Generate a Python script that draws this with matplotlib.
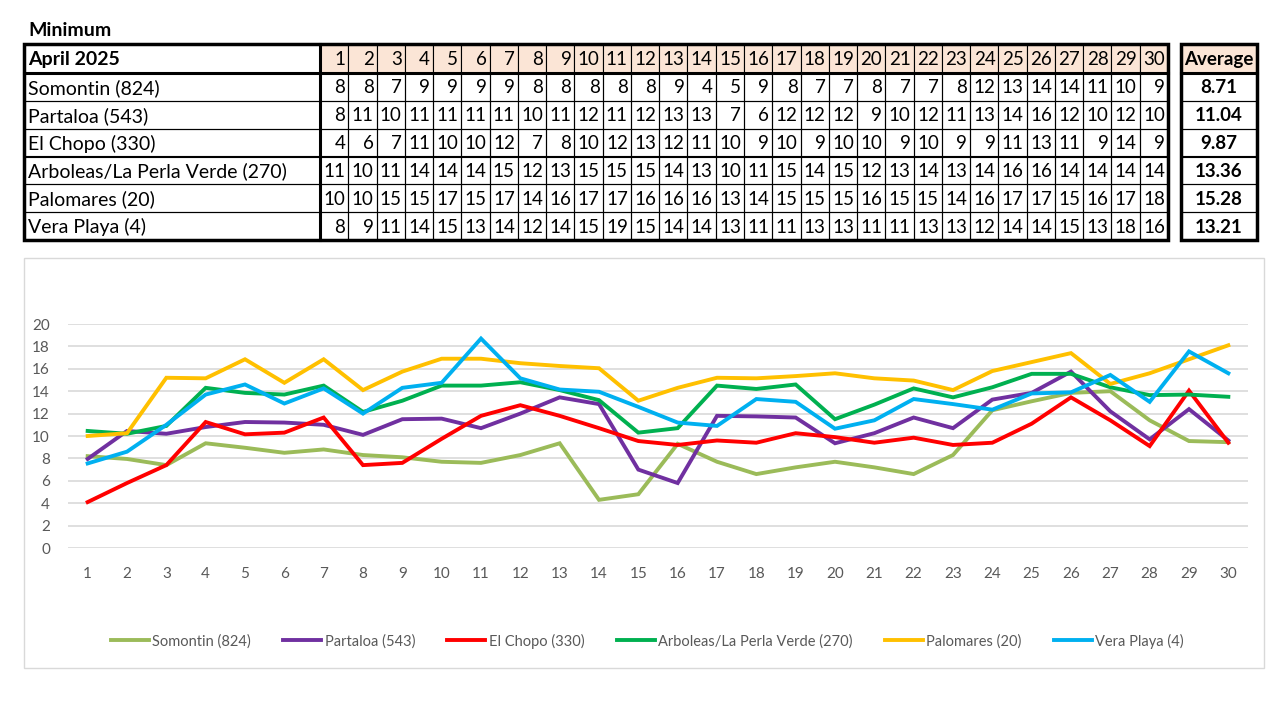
import numpy as np
import matplotlib
matplotlib.use("Agg")
import matplotlib.pyplot as plt
from matplotlib.patches import Rectangle

plt.rcParams['font.family'] = ['Lato', 'DejaVu Sans']

# Daten ------------------------------------------------------------
days = list(range(1, 31))
stations = ["Somontin (824)", "Partaloa (543)", "El Chopo (330)",
            "Arboleas/La Perla Verde (270)", "Palomares (20)", "Vera Playa (4)"]
colors = ["#9BBB59", "#7030A0", "#FF0000", "#00B050", "#FFC000", "#00B0F0"]

# Tabellenwerte (gerundet)
tab_somontin = [8, 8, 7, 9, 9, 9, 9, 8, 8, 8, 8, 8, 9, 4, 5, 9, 8, 7, 7, 8, 7, 7, 8, 12, 13, 14, 14, 11, 10, 9]
tab_partaloa = [8, 11, 10, 11, 11, 11, 11, 10, 11, 12, 11, 12, 13, 13, 7, 6, 12, 12, 12, 9, 10, 12, 11, 13, 14, 16, 12, 10, 12, 10]
tab_chopo = [4, 6, 7, 11, 10, 10, 12, 7, 8, 10, 12, 13, 12, 11, 10, 9, 10, 9, 10, 10, 9, 10, 9, 9, 11, 13, 11, 9, 14, 9]
tab_arboleas = [11, 10, 11, 14, 14, 14, 15, 12, 13, 15, 15, 15, 14, 13, 10, 11, 15, 14, 15, 12, 13, 14, 13, 14, 16, 16, 14, 14, 14, 14]
tab_palomares = [10, 10, 15, 15, 17, 15, 17, 14, 16, 17, 17, 16, 16, 16, 13, 14, 15, 15, 15, 16, 15, 15, 14, 16, 17, 17, 15, 16, 17, 18]
tab_vera = [8, 9, 11, 14, 15, 13, 14, 12, 14, 15, 19, 15, 14, 14, 13, 11, 11, 13, 13, 11, 11, 13, 13, 12, 14, 14, 15, 13, 18, 16]
averages = ["8.71", "11.04", "9.87", "13.36", "15.28", "13.21"]

# Werte im Diagramm (mit Nachkommastellen)
somontin = [8.2, 7.95, 7.4, 9.35, 8.95, 8.5, 8.8, 8.3, 8.1, 7.7, 7.6, 8.3, 9.35, 4.3, 4.8, 9.3, 7.7, 6.6, 7.2, 7.7,
            7.2, 6.6, 8.3, 12.3, 13.1, 13.85, 14.0, 11.4, 9.55, 9.45]
partaloa = [7.95, 10.45, 10.2, 10.8, 11.25, 11.2, 11.0, 10.1, 11.5, 11.55, 10.7, 12.0, 13.45, 12.85, 7.0, 5.8, 11.8, 11.75, 11.65, 9.35,
            10.25, 11.65, 10.7, 13.25, 13.85, 15.75, 12.2, 9.7, 12.4, 9.6]
chopo = [4.1, 5.8, 7.4, 11.25, 10.15, 10.3, 11.65, 7.4, 7.6, 9.75, 11.8, 12.75, 11.8, 10.7, 9.55, 9.2, 9.6, 9.4, 10.25, 9.9,
         9.4, 9.85, 9.2, 9.4, 11.1, 13.45, 11.4, 9.1, 14.05, 9.4]
arboleas = [10.45, 10.2, 10.9, 14.3, 13.85, 13.7, 14.5, 12.15, 13.15, 14.5, 14.5, 14.8, 14.1, 13.2, 10.3, 10.7, 14.5, 14.2, 14.6, 11.5,
            12.8, 14.25, 13.45, 14.35, 15.55, 15.55, 14.35, 13.65, 13.7, 13.5]
palomares = [10.0, 10.25, 15.2, 15.15, 16.85, 14.75, 16.85, 14.1, 15.75, 16.9, 16.9, 16.5, 16.25, 16.05, 13.15, 14.3, 15.2, 15.15, 15.35, 15.6,
             15.15, 14.95, 14.1, 15.8, 16.6, 17.4, 14.65, 15.6, 16.85, 18.1]
vera = [7.55, 8.6, 11.0, 13.7, 14.6, 12.9, 14.25, 12.0, 14.3, 14.75, 18.7, 15.15, 14.15, 13.95, 12.6, 11.2, 10.9, 13.3, 13.05, 10.65,
        11.4, 13.3, 12.85, 12.35, 13.8, 13.9, 15.45, 13.05, 17.55, 15.6]

table_rows = [tab_somontin, tab_partaloa, tab_chopo, tab_arboleas, tab_palomares, tab_vera]
series = [somontin, partaloa, chopo, arboleas, palomares, vera]

W, H = 1280, 701
fig = plt.figure(figsize=(W / 100, H / 100), dpi=100)

# Overlay in Pixelkoordinaten fuer Tabelle und Rahmen
ov = fig.add_axes([0, 0, 1, 1])
ov.set_xlim(0, W)
ov.set_ylim(H, 0)
ov.axis("off")

fs = 14      # Namen
fsn = 13.5   # Zahlen
ov.text(28, 30, "Minimum", fontsize=fs, fontweight="bold", va="center", ha="left")

x0, xn, xe = 24, 320, 1168
col_w = (xe - xn) / 30
y_top, y_head = 44, 73
row_h = (240 - y_head) / 6
peach = "#FBE5D6"

# Kopfzeile
for i, d in enumerate(days):
    cx = xn + i * col_w
    ov.add_patch(Rectangle((cx, y_top), col_w, y_head - y_top, facecolor=peach, edgecolor="black", lw=0.8))
    ov.text(cx + col_w - 3, (y_top + y_head) / 2 + 1, str(d), fontsize=fsn, ha="right", va="center")
ov.text(x0 + 4, (y_top + y_head) / 2 + 1, "April 2025", fontsize=fs, fontweight="bold", ha="left", va="center")

for r, (name, vals) in enumerate(zip(stations, table_rows)):
    yt = y_head + r * row_h
    ov.add_patch(Rectangle((x0, yt), xn - x0, row_h, facecolor="none", edgecolor="black", lw=0.8))
    ov.text(x0 + 4, yt + row_h / 2 + 1, name, fontsize=fs, ha="left", va="center")
    for i, v in enumerate(vals):
        cx = xn + i * col_w
        ov.add_patch(Rectangle((cx, yt), col_w, row_h, facecolor="none", edgecolor="black", lw=0.8))
        ov.text(cx + col_w - 3, yt + row_h / 2 + 1, str(v), fontsize=fsn, ha="right", va="center")

# dicke Linien
ov.add_patch(Rectangle((x0, y_top), xe - x0, 240 - y_top, facecolor="none", edgecolor="black", lw=2.5))
ov.plot([x0, xe], [y_head, y_head], color="black", lw=2.2)
ov.plot([xn, xn], [y_top, 240], color="black", lw=2.2)

# Durchschnitt
ax0, ax1 = 1181, 1257
ov.add_patch(Rectangle((ax0, y_top), ax1 - ax0, y_head - y_top, facecolor=peach, edgecolor="black", lw=0.8))
ov.text((ax0 + ax1) / 2, (y_top + y_head) / 2 + 1, "Average", fontsize=13.5, fontweight="bold", ha="center", va="center")
for r, a in enumerate(averages):
    yt = y_head + r * row_h
    ov.add_patch(Rectangle((ax0, yt), ax1 - ax0, row_h, facecolor="none", edgecolor="black", lw=0.8))
    ov.text((ax0 + ax1) / 2, yt + row_h / 2 + 1, a, fontsize=fsn, fontweight="bold", ha="center", va="center")
ov.add_patch(Rectangle((ax0, y_top), ax1 - ax0, 240 - y_top, facecolor="none", edgecolor="black", lw=2.5))
ov.plot([ax0, ax1], [y_head, y_head], color="black", lw=2.2)

# Rahmen des Diagramms
ov.add_patch(Rectangle((24, 258), 1240, 410, facecolor="none", edgecolor="#D9D9D9", lw=1))

# Liniendiagramm
ax = fig.add_axes([68 / W, (H - 548) / H, (1248 - 68) / W, 224 / H])
for name, vals, c in zip(stations, series, colors):
    ax.plot(days, vals, color=c, lw=2.8, label=name, solid_joinstyle="miter")
ax.set_xlim(0.5, 30.5)
ax.set_ylim(0, 20)
ax.set_yticks(range(0, 21, 2))
ax.set_xticks(days)
ax.grid(axis="y", color="#D9D9D9", lw=1.2)
ax.set_axisbelow(True)
for s in ax.spines.values():
    s.set_visible(False)
ax.tick_params(length=0, colors="#595959", labelsize=11)
ax.tick_params(axis="x", pad=14)
ax.tick_params(axis="y", pad=13)

ax.legend(loc="center", bbox_to_anchor=(0.491, (548 - 641) / 224), ncol=6, frameon=False,
          fontsize=10.5, labelcolor="#595959", handlelength=2.6, columnspacing=2.2, handletextpad=0.25)

fig.savefig("out.png", dpi=100)
